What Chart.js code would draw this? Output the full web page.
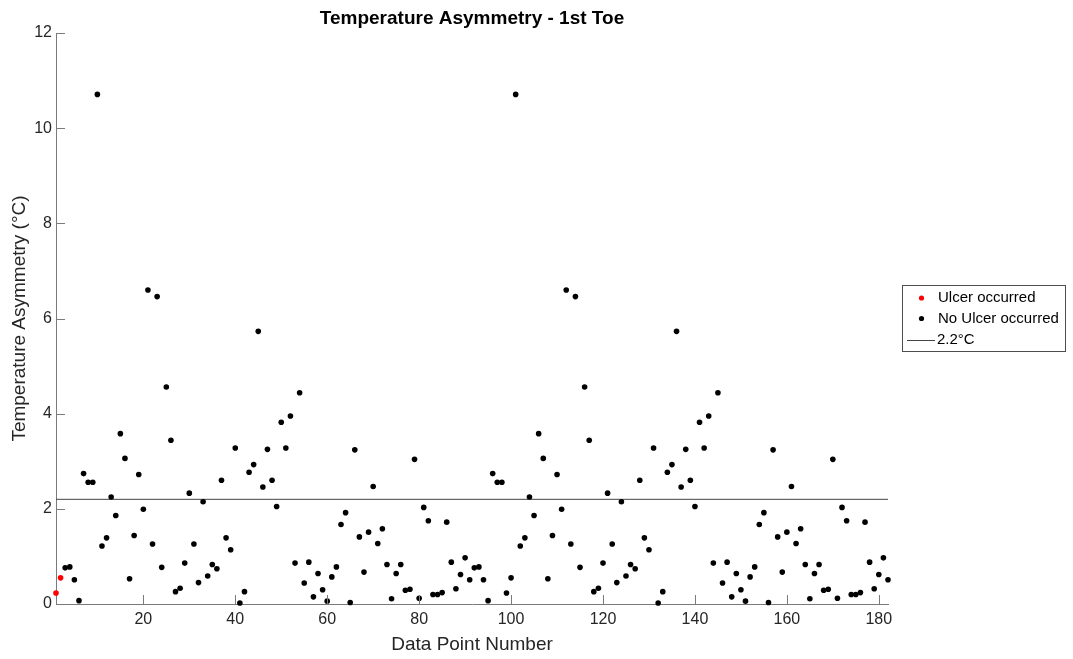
<!DOCTYPE html>
<html>
<head>
<meta charset="utf-8">
<script src="https://cdn.jsdelivr.net/npm/chart.js@4.4.1/dist/chart.umd.min.js"></script>
<style>
html,body{margin:0;padding:0;background:#ffffff;}
#wrap{width:1073px;height:659px;position:relative;}
</style>
</head>
<body>
<div id="wrap"><canvas id="c" width="1073" height="659"></canvas></div>
<script>
// ---------- data ----------
const TITLE = 'Temperature Asymmetry - 1st Toe';
const X_LABEL = 'Data Point Number';
const Y_LABEL = 'Temperature Asymmetry (°C)';
const X_TICKS = [20, 40, 60, 80, 100, 120, 140, 160, 180];
const Y_TICKS = [0, 2, 4, 6, 8, 10, 12];
const X_MIN = 1;
const X_MAX = 182;
const THRESHOLD = 2.2;
const SERIES_LABELS = ['Ulcer occurred', 'No Ulcer occurred', '2.2°C'];
// data point numbers at which an ulcer occurred
const ULCER_POINTS = [1, 2];
// temperature asymmetry of data points 1..182
const VALUES = [
  0.23, 0.55, 0.76, 0.78, 0.51, 0.07, 2.74, 2.56, 2.56, 10.71,
  1.22, 1.39, 2.25, 1.86, 3.58, 3.06, 0.53, 1.44, 2.72, 1.99,
  6.60, 1.26, 6.46, 0.77, 4.56, 3.44, 0.26, 0.33, 0.86, 2.33,
  1.26, 0.45, 2.15, 0.59, 0.83, 0.74, 2.60, 1.39, 1.14, 3.28,
  0.02, 0.26, 2.77, 2.93, 5.73, 2.46, 3.25, 2.60, 2.05, 3.82,
  3.28, 3.95, 0.86, 4.44, 0.44, 0.88, 0.15, 0.64, 0.30, 0.06,
  0.57, 0.78, 1.67, 1.92, 0.03, 3.24, 1.41, 0.67, 1.51, 2.47,
  1.27, 1.58, 0.83, 0.11, 0.64, 0.83, 0.29, 0.31, 3.04, 0.12,
  2.03, 1.75, 0.20, 0.20, 0.24, 1.72, 0.88, 0.32, 0.62, 0.97,
  0.51,
  0.76, 0.78, 0.51, 0.07, 2.74, 2.56, 2.56, 0.23, 0.55,
  10.71, 1.22, 1.39, 2.25, 1.86, 3.58, 3.06, 0.53, 1.44, 2.72,
  1.99, 6.60, 1.26, 6.46, 0.77, 4.56, 3.44, 0.26, 0.33, 0.86,
  2.33, 1.26, 0.45, 2.15, 0.59, 0.83, 0.74, 2.60, 1.39, 1.14,
  3.28, 0.02, 0.26, 2.77, 2.93, 5.73, 2.46, 3.25, 2.60, 2.05,
  3.82, 3.28, 3.95, 0.86, 4.44, 0.44, 0.88, 0.15, 0.64, 0.30,
  0.06, 0.57, 0.78, 1.67, 1.92, 0.03, 3.24, 1.41, 0.67, 1.51,
  2.47, 1.27, 1.58, 0.83, 0.11, 0.64, 0.83, 0.29, 0.31, 3.04,
  0.12, 2.03, 1.75, 0.20, 0.20, 0.24, 1.72, 0.88, 0.32, 0.62,
  0.97, 0.51
];

// ---------- build datasets from data ----------
const ulcerData = [];
const noUlcerData = [];
VALUES.forEach((v, i) => {
  const pt = { x: i + 1, y: v };
  if (ULCER_POINTS.includes(i + 1)) ulcerData.push(pt); else noUlcerData.push(pt);
});
const thresholdData = [{ x: X_MIN, y: THRESHOLD }, { x: X_MAX, y: THRESHOLD }];

const FONT = "'Liberation Sans', Arial, Helvetica, sans-serif";
const AXIS_COLOR = '#7a7a7a';
const TEXT_COLOR = '#262626';

// inward tick marks (MATLAB style)
const inwardTicks = {
  id: 'inwardTicks',
  afterDatasetsDraw(chart) {
    const ctx = chart.ctx;
    const xs = chart.scales.x, ys = chart.scales.y;
    const a = chart.chartArea;
    ctx.save();
    ctx.strokeStyle = AXIS_COLOR;
    ctx.lineWidth = 1;
    ctx.beginPath();
    xs.ticks.forEach(t => {
      const px = Math.round(xs.getPixelForValue(t.value)) + 0.5;
      ctx.moveTo(px, a.bottom);
      ctx.lineTo(px, a.bottom - 9);
    });
    ys.ticks.forEach(t => {
      const py = Math.round(ys.getPixelForValue(t.value)) + 0.5;
      ctx.moveTo(a.left, py);
      ctx.lineTo(a.left + 9, py);
    });
    ctx.stroke();
    ctx.restore();
  }
};

// title centred over the plot area
const plotTitle = {
  id: 'plotTitle',
  afterDraw(chart) {
    const ctx = chart.ctx;
    const a = chart.chartArea;
    ctx.save();
    ctx.font = 'bold 19px ' + FONT;
    ctx.fillStyle = '#000';
    ctx.textAlign = 'center';
    ctx.textBaseline = 'middle';
    ctx.fillText(TITLE, (a.left + a.right) / 2, 19);
    ctx.restore();
  }
};

// boxed legend on the right
const boxLegend = {
  id: 'boxLegend',
  afterDraw(chart) {
    const ctx = chart.ctx;
    const ds = chart.data.datasets;
    const bx = 902.5, by = 285.5, bw = 163, bh = 66;
    ctx.save();
    ctx.fillStyle = '#ffffff';
    ctx.fillRect(bx, by, bw, bh);
    ctx.strokeStyle = '#4d4d4d';
    ctx.lineWidth = 1;
    ctx.strokeRect(bx, by, bw, bh);
    ctx.font = '15px ' + FONT;
    ctx.textBaseline = 'middle';
    const rows = [298, 318.5, 340];
    ds.forEach((d, i) => {
      const y = rows[i];
      if (d.type === 'line') {
        ctx.strokeStyle = d.borderColor;
        ctx.beginPath();
        ctx.moveTo(907, Math.round(y) + 0.5);
        ctx.lineTo(935, Math.round(y) + 0.5);
        ctx.stroke();
        ctx.fillStyle = '#000';
        ctx.fillText(d.label, 937, y);
      } else {
        ctx.fillStyle = d.backgroundColor;
        ctx.beginPath();
        ctx.arc(921.5, y, 2.6, 0, Math.PI * 2);
        ctx.fill();
        ctx.fillStyle = '#000';
        ctx.fillText(d.label, 938, y);
      }
    });
    ctx.restore();
  }
};

new Chart(document.getElementById('c'), {
  type: 'scatter',
  data: {
    datasets: [
      { label: SERIES_LABELS[0], data: ulcerData, backgroundColor: '#ff0000', borderWidth: 0,
        pointRadius: 2.8, pointHoverRadius: 2.8, order: 1, clip: false },
      { label: SERIES_LABELS[1], data: noUlcerData, backgroundColor: '#000000', borderWidth: 0,
        pointRadius: 2.8, pointHoverRadius: 2.8, order: 2, clip: false },
      { type: 'line', label: SERIES_LABELS[2], data: thresholdData, borderColor: '#444444',
        borderWidth: 1, pointRadius: 0, fill: false, order: 3 }
    ]
  },
  options: {
    responsive: false,
    animation: false,
    devicePixelRatio: 1,
    layout: { padding: { top: 33, right: 185, bottom: 0, left: 0 } },
    plugins: {
      legend: { display: false },
      tooltip: { enabled: false },
      title: { display: false }
    },
    scales: {
      x: {
        type: 'linear', min: X_MIN, max: X_MAX,
        afterBuildTicks(s) { s.ticks = X_TICKS.map(v => ({ value: v })); },
        afterFit(s) { s.height = 55; },
        grid: { display: true, drawOnChartArea: false, drawTicks: false, color: 'rgba(0,0,0,0)' },
        border: { display: true, color: AXIS_COLOR, width: 1 },
        ticks: { color: TEXT_COLOR, font: { family: FONT, size: 16 }, padding: 6, maxRotation: 0, autoSkip: false },
        title: { display: true, text: X_LABEL, color: TEXT_COLOR, font: { family: FONT, size: 19 }, padding: { top: 0, bottom: 3 } }
      },
      y: {
        type: 'linear', min: 0, max: 12,
        afterBuildTicks(s) { s.ticks = Y_TICKS.map(v => ({ value: v })); },
        afterFit(s) { s.width = 56; },
        grid: { display: true, drawOnChartArea: false, drawTicks: false, color: 'rgba(0,0,0,0)' },
        border: { display: true, color: AXIS_COLOR, width: 1 },
        ticks: { color: TEXT_COLOR, font: { family: FONT, size: 16 }, padding: 4 },
        title: { display: true, text: Y_LABEL, color: TEXT_COLOR, font: { family: FONT, size: 19 }, padding: { top: 8, bottom: 0 } }
      }
    }
  },
  plugins: [inwardTicks, plotTitle, boxLegend]
});
</script>
</body>
</html>
